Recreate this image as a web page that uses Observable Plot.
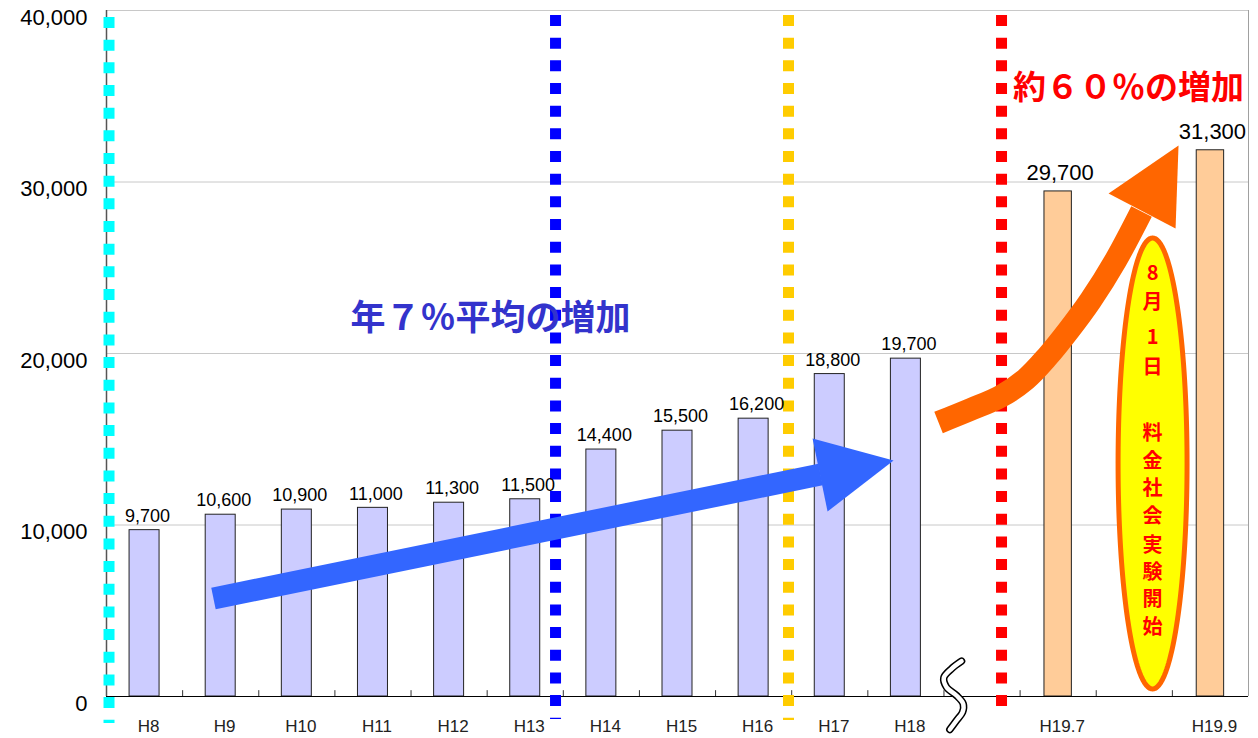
<!DOCTYPE html>
<html><head><meta charset="utf-8">
<script src="https://cdn.jsdelivr.net/npm/d3@7"></script>
<script src="https://cdn.jsdelivr.net/npm/@observablehq/plot@0.6"></script>
<style>body{margin:0;background:#fff;} svg{display:block;}</style>
</head><body><div id="chart"></div>
<script>
// ---- data ----
const categories = ["H8","H9","H10","H11","H12","H13","H14","H15","H16","H17","H18","","H19.7","","H19.9"];
const barSlots   = [0,1,2,3,4,5,6,7,8,9,10,12,14];
const barValues  = [9700,10600,10900,11000,11300,11500,14400,15500,16200,18800,19700,29450,31850];
const barLabels  = ["9,700","10,600","10,900","11,000","11,300","11,500","14,400","15,500","16,200","18,800","19,700","29,700","31,300"];
const barGroups  = ["before","before","before","before","before","before","before","before","before","before","before","after","after"];
const yTicks     = [0,10000,20000,30000,40000];
const xBoundaries = [0.5,1.5,2.5,3.5,4.5,5.5,6.5,7.5,8.5,9.5,10.5,11.5,12.5,13.5];

// ---- annotations (data units) ----
const dottedX      = [-0.467, 5.398, 8.458, 11.256];
const dottedTop    = [39592, 39708, 39708, 39708];
const dottedBottom = [-1574, -1340, -1400, -760];
const dottedColor  = ["#00ffff", "#0000ff", "#ffcc00", "#ff0000"];

const blueShaft = [[0.905,5714],[8.879,12945]];
const blueHead  = [[8.774,15044],[9.838,13761],[8.971,10787]];
const orangeShaft = [[10.429,15977],[10.849,16735],[11.243,17493],[11.571,18484],[11.860,19825],[12.136,21341],[12.425,23090],[12.754,25423],[13.095,28280]];
const orangeHead  = [[12.662,29329],[13.581,32128],[13.542,27289]];
const breakMark = [[10.731,2058],[10.599,1615],[10.498,1090],[10.534,542],[10.665,58],[10.753,-426],[10.744,-915],[10.665,-1399],[10.577,-1924]];

const ellipseCenter = [13.24, 13586];
const ellipseRadii  = [0.453, 13149];
const ellipseChars  = ["8","月","1","日","料","金","社","会","実","験","開","始"];
const ellipseCharY  = [24665,22974,20933,19184,15335,13720,12105,10490,8810,7254,5638,4023];

const titleBlue = {text: "年７％平均の増加", x: 4.544, y: 22041};
const titleRed  = {text: "約６０％の増加", x: 12.924, y: 35452};

// ---- build ----
const bars = barSlots.map((s,i) => ({slot: s, value: barValues[i], label: barLabels[i], group: barGroups[i]}));
const halfW = g => g === "before" ? 0.197 : 0.18;
const dotted = dottedX.map((x,i) => ({x, top: dottedTop[i], bottom: dottedBottom[i], color: dottedColor[i]}));
const xLabels = categories.map((c,i) => ({slot: i, c})).filter(d => d.c !== "");
const ellipsePts = d3.range(0, 360, 2).map(a => [ellipseCenter[0] + ellipseRadii[0]*Math.cos(a*Math.PI/180), ellipseCenter[1] + ellipseRadii[1]*Math.sin(a*Math.PI/180)]);
const ellipseText = ellipseChars.map((c,i) => ({c, y: ellipseCharY[i]}));

const CJK = "'Noto Sans CJK JP', 'Noto Sans', sans-serif";

const chart = Plot.plot({
  width: 1258, height: 738,
  marginLeft: 106, marginRight: 10, marginTop: 10, marginBottom: 42,
  x: {type: "linear", domain: [-0.5, 14.5], axis: null},
  y: {type: "linear", domain: [0, 40000], axis: null},
  style: {fontFamily: "'Liberation Sans', Arial, sans-serif", background: "#fff", overflow: "visible"},
  marks: [
    Plot.ruleY(yTicks.filter(d => d > 0), {y: d => d, stroke: "#c8c8c8", strokeWidth: 1}),
    Plot.ruleX([14.5], {x: d => d, stroke: "#a0a0a0"}),
    Plot.rect(bars, {x1: d => d.slot - halfW(d.group), x2: d => d.slot + halfW(d.group), y1: 0, y2: "value",
      fill: d => d.group === "before" ? "#ccccff" : "#ffcc99", stroke: "#222", strokeWidth: 1}),
    Plot.ruleY([0], {y: d => d, stroke: "#000", strokeWidth: 1.2}),
    Plot.ruleX([-0.5], {x: d => d, stroke: "#555", strokeWidth: 1.5}),
    Plot.ruleX(xBoundaries, {x: d => d, y1: 0, y2: 340, stroke: "#333"}),
    Plot.ruleX(dotted, {x: "x", y1: "top", y2: "bottom", stroke: "color", strokeWidth: 11, strokeDasharray: "11 11.67"}),
    // y labels
    Plot.text(yTicks, {x: -0.5, y: d => d, text: d => d3.format(",")(d), textAnchor: "end", dx: -19, dy: 7, fontSize: 22, fill: "#000", ariaLabel: "ylabels"}),
    // x labels
    Plot.text(xLabels, {x: "slot", y: 0, text: "c", dy: 30, dx: 4, fontSize: 17, fill: "#222", ariaLabel: "xlabels"}),
    // value labels
    Plot.text(bars.filter(d => d.group === "before"), {x: "slot", y: "value", text: "label", dx: 3, dy: -14, fontSize: 18, fill: "#000", ariaLabel: "vlabels"}),
    Plot.text(bars.filter(d => d.group === "after"), {x: "slot", y: "value", text: "label", dx: 2, dy: -18, fontSize: 22, fill: "#000", ariaLabel: "vlabelsBig"}),
    // break mark
    Plot.line(breakMark, {x: d => d[0], y: d => d[1], curve: "catmull-rom", stroke: "#000", strokeWidth: 7.5}),
    Plot.line(breakMark, {x: d => d[0], y: d => d[1], curve: "catmull-rom", stroke: "#fff", strokeWidth: 4.5}),
    // blue arrow
    Plot.line(blueShaft, {x: d => d[0], y: d => d[1], stroke: "#3366ff", strokeWidth: 22, strokeLinecap: "butt"}),
    Plot.line(blueHead, {x: d => d[0], y: d => d[1], curve: "linear-closed", fill: "#3366ff", stroke: "none"}),
    // orange arrow
    Plot.line(orangeShaft, {x: d => d[0], y: d => d[1], curve: "catmull-rom", stroke: "#ff6600", strokeWidth: 23, strokeLinecap: "butt", strokeLinejoin: "round"}),
    Plot.line(orangeHead, {x: d => d[0], y: d => d[1], curve: "linear-closed", fill: "#ff6600", stroke: "none"}),
    // ellipse
    Plot.line(ellipsePts, {x: d => d[0], y: d => d[1], curve: "linear-closed", fill: "#ffff00", stroke: "#ff6600", strokeWidth: 5}),
    Plot.text(ellipseText, {x: ellipseCenter[0], y: "y", text: "c", fontSize: 20, fontWeight: "bold", fill: "#ff0000", fontFamily: CJK}),
    // titles
    Plot.text([titleBlue], {x: "x", y: "y", text: "text", fontSize: 35, fontWeight: "bold", fill: "#3333cc", fontFamily: CJK}),
    Plot.text([titleRed], {x: "x", y: "y", text: "text", fontSize: 33, fontWeight: "bold", fill: "#ff0000", fontFamily: CJK})
  ]
});
document.getElementById("chart").appendChild(chart);
const ls = {ylabels: "1.8px", xlabels: "0.5px", vlabels: "0.5px", vlabelsBig: "2.4px"};
for (const k in ls) chart.querySelectorAll(`g[aria-label="${k}"] text`).forEach(t => t.style.letterSpacing = ls[k]);
</script></body></html>
